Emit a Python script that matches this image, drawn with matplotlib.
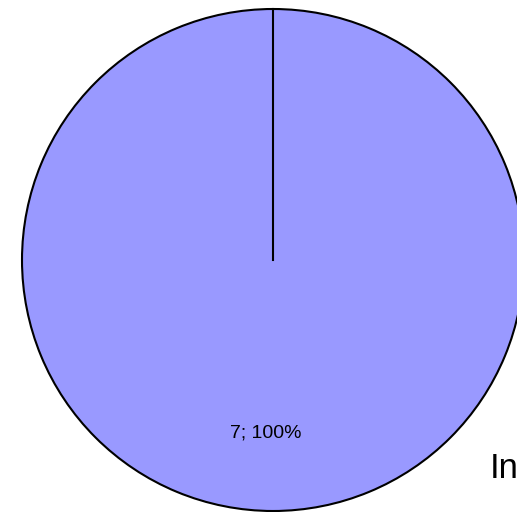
import matplotlib.pyplot as plt

plt.rcParams['font.family'] = ['Liberation Sans', 'DejaVu Sans']

labels = ['In']
values = [7]
colors = ['#9999ff']

fig = plt.figure(figsize=(5.17, 5.12), dpi=100)
ax = fig.add_axes([0, 0, 1, 1])

total = sum(values)
wedges, texts, autotexts = ax.pie(
    values, colors=colors, startangle=90, counterclock=False,
    autopct=lambda p: '%d; %d%%' % (round(p * total / 100), round(p)),
    pctdistance=0.69,
    wedgeprops=dict(edgecolor='black', linewidth=1.5),
    textprops=dict(fontsize=14, color='black'))
# label sits a bit left of the centre in the original
autotexts[0].set_x(autotexts[0].get_position()[0] - 0.028)

# radial separator line (full wedge draws no radius)
ax.plot([0, 0], [0, 1], color='black', linewidth=1.5)

ax.set_aspect('auto')
ax.set_xlim(-273 / 251, (517 - 273) / 251)
ax.set_ylim(-252 / 251, 260 / 251)
ax.axis('off')

fig.text(490 / 517, 1 - 478 / 512, labels[0], fontsize=25, ha='left', va='baseline')

fig.savefig('out.png', dpi=100)
